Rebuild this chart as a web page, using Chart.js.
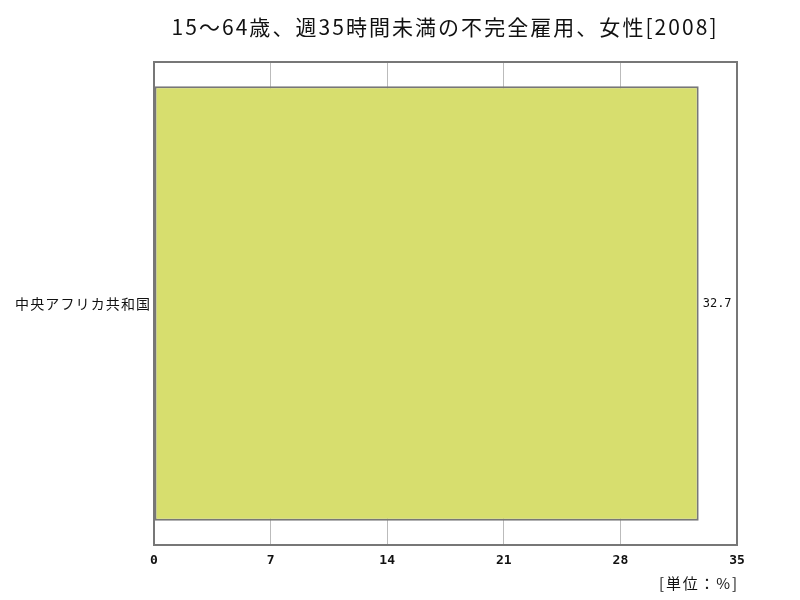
<!DOCTYPE html>
<html>
<head>
<meta charset="utf-8">
<script src="https://cdn.jsdelivr.net/npm/chart.js@4"></script>
<style>
  html, body { margin: 0; padding: 0; background: #fff; }
  #wrap { width: 800px; height: 600px; }
</style>
</head>
<body>
<div id="wrap"><canvas id="chart" width="800" height="600"></canvas></div>
<script>
const titleText = "15～64歳、週35時間未満の不完全雇用、女性[2008]";
const unitText = "[単位：%]";
const categories = ["中央アフリカ共和国"];
const values = [32.7];
const xMin = 0, xMax = 35, xStep = 7;

const JP = '"Noto Sans CJK JP", "DejaVu Sans", sans-serif';

// draw text stretched to a given width with letter spacing
function spacedText(ctx, text, x, y, width, align) {
    ctx.letterSpacing = '0px';
    const w = ctx.measureText(text).width;
    const gap = (width - w) / Math.max(1, text.length - 1);
    ctx.letterSpacing = gap + 'px';
    ctx.textAlign = 'left';
    let sx = x;
    if (align === 'center') sx = x - width / 2;
    else if (align === 'right') sx = x - width;
    ctx.fillText(text, sx, y);
    ctx.letterSpacing = '0px';
}

// title, unit label, value labels and outer frame
const extras = {
    id: 'extras',
    afterDatasetsDraw(chart) {
        const ctx = chart.ctx;
        const area = chart.chartArea;
        ctx.save();
        ctx.strokeStyle = '#777';
        ctx.lineWidth = 2;
        ctx.strokeRect(area.left, area.top, area.right - area.left, area.bottom - area.top);

        ctx.fillStyle = '#111';
        ctx.textBaseline = 'middle';
        ctx.font = '21px ' + JP;
        spacedText(ctx, titleText, 444, 27, 545, 'center');

        ctx.font = '15px ' + JP;
        spacedText(ctx, unitText, 737, 583, 78, 'right');

        // category label
        const y = chart.scales.y;
        ctx.font = '14px ' + JP;
        categories.forEach((c, i) => {
            spacedText(ctx, c, 150, y.getPixelForValue(i), 135, 'right');
        });

        const meta = chart.getDatasetMeta(0);
        ctx.font = '12px "DejaVu Sans Mono", monospace';
        ctx.textAlign = 'left';
        meta.data.forEach((bar, i) => {
            ctx.fillText(values[i].toFixed(1), bar.x + 4, bar.y);
        });
        ctx.restore();
    }
};

new Chart(document.getElementById('chart'), {
    type: 'bar',
    data: {
        labels: categories,
        datasets: [{
            data: values,
            backgroundColor: '#d7de6e',
            borderColor: '#777',
            borderWidth: 2,
            borderSkipped: false,
            barPercentage: 0.9,
            categoryPercentage: 1.0
        }]
    },
    options: {
        indexAxis: 'y',
        responsive: false,
        animation: false,
        layout: { padding: { top: 62, right: 63, left: 0, bottom: 0 } },
        plugins: {
            legend: { display: false },
            title: { display: false },
            tooltip: { enabled: false }
        },
        scales: {
            x: {
                min: xMin,
                max: xMax,
                ticks: {
                    stepSize: xStep,
                    color: '#111',
                    font: { family: '"DejaVu Sans Mono", monospace', size: 13, weight: 'bold' },
                    padding: 8
                },
                grid: { color: '#bbb', lineWidth: 1, drawTicks: false },
                border: { display: false },
                afterFit(scale) { scale.height = 55; }
            },
            y: {
                ticks: { display: false },
                grid: { display: false, drawTicks: false },
                border: { display: false },
                afterFit(scale) { scale.width = 154; }
            }
        }
    },
    plugins: [extras]
});
</script>
</body>
</html>
